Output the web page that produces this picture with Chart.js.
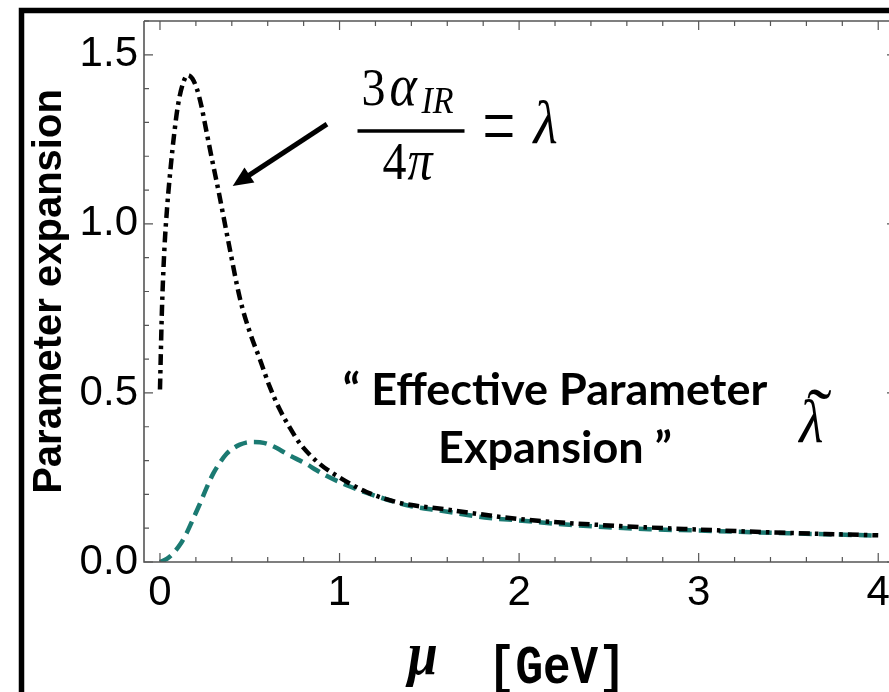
<!DOCTYPE html>
<html>
<head>
<meta charset="utf-8">
<script src="https://cdn.jsdelivr.net/npm/chart.js@4.4.1/dist/chart.umd.min.js"></script>
<style>
  html, body { margin: 0; padding: 0; background: #fff; }
  #wrap { width: 889px; height: 692px; }
</style>
</head>
<body>
<div id="wrap"><canvas id="paramChart" width="889" height="692"></canvas></div>
<script>
// lambda = 3 alpha_IR / (4 pi), black dot-dashed curve
const lambdaMu = [0, 0.004, 0.008, 0.013, 0.025, 0.04, 0.06, 0.08, 0.1, 0.125, 0.155, 0.18, 0.205, 0.23, 0.26, 0.29, 0.325, 0.38, 0.445, 0.5, 0.556, 0.61, 0.668, 0.72, 0.78, 0.89, 1.0, 1.15, 1.335, 1.6, 2.0, 2.5, 3.0, 3.5, 4.0];
const lambdaVals = [0.51, 0.60, 0.69, 0.78, 0.93, 1.05, 1.17, 1.27, 1.35, 1.41, 1.44, 1.43, 1.40, 1.35, 1.27, 1.19, 1.10, 0.95, 0.78, 0.68, 0.60, 0.52, 0.45, 0.40, 0.35, 0.29, 0.25, 0.207, 0.175, 0.155, 0.127, 0.108, 0.096, 0.086, 0.079];

// effective parameter lambda-tilde, teal dashed curve
const tildeMu = [0, 0.04, 0.074, 0.11, 0.148, 0.185, 0.223, 0.26, 0.297, 0.335, 0.371, 0.41, 0.445, 0.48, 0.519, 0.556, 0.594, 0.65, 0.705, 0.76, 0.816, 0.87, 0.927, 1.04, 1.187, 1.39, 1.56, 1.836, 2.0, 2.28, 2.726, 3.0, 3.5, 4.0];
const tildeVals = [0, 0.01, 0.026, 0.05, 0.085, 0.128, 0.173, 0.22, 0.262, 0.295, 0.32, 0.337, 0.347, 0.353, 0.355, 0.354, 0.35, 0.337, 0.32, 0.305, 0.29, 0.272, 0.255, 0.227, 0.198, 0.166, 0.152, 0.13, 0.123, 0.11, 0.097, 0.093, 0.085, 0.078];

const xTicks = [0, 1, 2, 3, 4];
const yTicks = [0, 0.5, 1.0, 1.5];

const toPoints = (xs, ys) => xs.map((v, i) => ({ x: v, y: ys[i] }));

// draws text with optional stretch (the original figure is a bit tall)
function stretchText(ctx, str, x, y, font, sy, align, sx) {
  ctx.save();
  ctx.font = font;
  ctx.textAlign = align || 'left';
  ctx.textBaseline = 'alphabetic';
  ctx.translate(x, y);
  ctx.scale(sx || 1, sy);
  ctx.fillText(str, 0, 0);
  ctx.restore();
}

const framePlugin = {
  id: 'frame',
  beforeDraw(chart) {
    const ctx = chart.ctx;
    ctx.save();
    ctx.fillStyle = '#fff';
    ctx.fillRect(0, 0, chart.width, chart.height);
    // heavy black border round the slide
    ctx.strokeStyle = '#000';
    ctx.lineWidth = 5.5;
    ctx.beginPath();
    ctx.moveTo(21.5, chart.height + 5);
    ctx.lineTo(21.5, 10.5);
    ctx.lineTo(chart.width + 5, 10.5);
    ctx.stroke();
    ctx.restore();
  },
  afterDraw(chart) {
    const { ctx, chartArea: a } = chart;
    const x = chart.scales.x, y = chart.scales.y;
    ctx.save();
    ctx.strokeStyle = '#555';
    ctx.lineWidth = 1.6;
    ctx.beginPath();
    ctx.moveTo(a.left, a.top);
    ctx.lineTo(a.left, a.bottom);
    ctx.lineTo(a.right + 2, a.bottom);
    ctx.moveTo(a.left, a.top);
    ctx.lineTo(a.right + 2, a.top);
    ctx.stroke();

    // inward ticks, Mathematica style; the right frame sits just off the canvas
    const rightEdge = a.right + 7;
    ctx.lineWidth = 1.2;
    ctx.beginPath();
    for (let k = 0; k <= 20; k++) {
      const px = x.getPixelForValue(k * 0.2);
      const len = (k % 5 === 0) ? 9 : 5;
      ctx.moveTo(px, a.bottom);
      ctx.lineTo(px, a.bottom - len);
      ctx.moveTo(px, a.top);
      ctx.lineTo(px, a.top + len);
    }
    for (let k = 0; k <= 16; k++) {
      const py = y.getPixelForValue(k * 0.1);
      const len = (k % 5 === 0) ? 9 : 5;
      ctx.moveTo(a.left, py);
      ctx.lineTo(a.left + len, py);
      ctx.moveTo(rightEdge, py);
      ctx.lineTo(rightEdge - len, py);
    }
    ctx.stroke();

    ctx.fillStyle = '#000';
    // arrow pointing at the lambda curve
    const sx = x.getPixelForValue(0.93), sy = y.getPixelForValue(1.295);
    const tx = x.getPixelForValue(0.405), ty = y.getPixelForValue(1.112);
    const dx = tx - sx, dy = ty - sy, L = Math.hypot(dx, dy);
    const ux = dx / L, uy = dy / L;
    const hl = 20, hw = 9;
    const bx = tx - ux * hl, by = ty - uy * hl;
    ctx.strokeStyle = '#000';
    ctx.lineWidth = 5;
    ctx.beginPath();
    ctx.moveTo(sx, sy);
    ctx.lineTo(bx + ux * 2, by + uy * 2);
    ctx.stroke();
    ctx.beginPath();
    ctx.moveTo(tx, ty);
    ctx.lineTo(bx - uy * hw, by + ux * hw);
    ctx.lineTo(bx + uy * hw, by - ux * hw);
    ctx.closePath();
    ctx.fill();

    // formula 3 alpha_IR / 4 pi = lambda
    const fx = x.getPixelForValue(1.10), fy = y.getPixelForValue(1.274);
    const serif = 'Liberation Serif';
    stretchText(ctx, '3', fx + 4, fy - 26, '48px ' + serif, 1.12);
    stretchText(ctx, 'α', fx + 32, fy - 26, 'italic 52px ' + serif, 1.12);
    stretchText(ctx, 'IR', fx + 64, fy - 18, 'italic 34px ' + serif, 1.12);
    ctx.fillRect(fx, fy - 2, 107, 3.5);
    stretchText(ctx, '4', fx + 25, fy + 48, '48px ' + serif, 1.12);
    stretchText(ctx, 'π', fx + 50, fy + 48, 'italic 50px ' + serif, 1.12);
    stretchText(ctx, '＝', fx + 123, fy + 25, '300 46px "Noto Sans CJK JP"', 1.75, 'left', 0.8);
    stretchText(ctx, 'λ', fx + 176, fy + 12, 'italic 56px ' + serif, 1.08);

    // "Effective Parameter Expansion"
    const cx = x.getPixelForValue(2.2);
    stretchText(ctx, '“ Effective Parameter', cx, y.getPixelForValue(0.463), 'bold 45px Lato', 0.98, 'center');
    stretchText(ctx, 'Expansion ”', cx, y.getPixelForValue(0.292), 'bold 45px Lato', 0.98, 'center');

    // lambda tilde label
    const lx = x.getPixelForValue(3.56), ly = y.getPixelForValue(0.354);
    stretchText(ctx, 'λ', lx, ly, 'italic 56px ' + serif, 1.08);
    stretchText(ctx, '˜', lx + 20, ly - 2, '74px ' + serif, 1.0, 'center');

    // x axis title: mu [GeV]
    const mx = x.getPixelForValue(1.38);
    stretchText(ctx, 'μ', mx, 674, 'bold italic 54px ' + serif, 1.12);
    stretchText(ctx, '[GeV]', mx + 80, 683, 'bold 46px Liberation Mono', 1.15);
    ctx.restore();
  }
};

const ctx = document.getElementById('paramChart').getContext('2d');
new Chart(ctx, {
  type: 'line',
  data: {
    datasets: [{
      label: 'lambda',
      data: toPoints(lambdaMu, lambdaVals),
      borderColor: '#000',
      borderWidth: 4.5,
      borderDash: [11, 5, 3.5, 5],
      pointRadius: 0,
      fill: false,
      cubicInterpolationMode: 'monotone'
    }, {
      label: 'lambda tilde',
      data: toPoints(tildeMu, tildeVals),
      borderColor: '#1b7a72',
      borderWidth: 4.5,
      borderDash: [13, 7],
      pointRadius: 0,
      fill: false,
      cubicInterpolationMode: 'monotone'
    }]
  },
  options: {
    responsive: false,
    animation: false,
    layout: { padding: { left: 0, top: 21, right: 0, bottom: 0 } },
    plugins: { legend: { display: false }, tooltip: { enabled: false } },
    scales: {
      x: {
        type: 'linear',
        min: -0.089,
        max: 4.06,
        afterBuildTicks: (s) => { s.ticks = xTicks.map(v => ({ value: v })); },
        afterFit: (s) => { s.height = 130; s.paddingRight = 0; s.paddingLeft = 0; },
        grid: { display: false, drawTicks: false },
        border: { display: false },
        ticks: {
          color: '#000',
          padding: 6,
          maxRotation: 0,
          font: { family: 'Liberation Sans', size: 42 },
          callback: (v) => String(v)
        }
      },
      y: {
        type: 'linear',
        min: 0,
        max: 1.6,
        afterBuildTicks: (s) => { s.ticks = yTicks.map(v => ({ value: v })); },
        afterFit: (s) => { s.width = 144; s.paddingTop = 0; s.paddingBottom = 0; },
        grid: { display: false, drawTicks: false },
        border: { display: false },
        ticks: {
          color: '#000',
          padding: 6,
          font: { family: 'Liberation Sans', size: 42 },
          callback: (v) => v.toFixed(1)
        },
        title: {
          display: true,
          text: 'Parameter expansion',
          color: '#000',
          padding: { top: 26, bottom: 0 },
          font: { family: 'Liberation Sans', size: 40, weight: 'bold' }
        }
      }
    }
  },
  plugins: [framePlugin]
});
</script>
</body>
</html>
